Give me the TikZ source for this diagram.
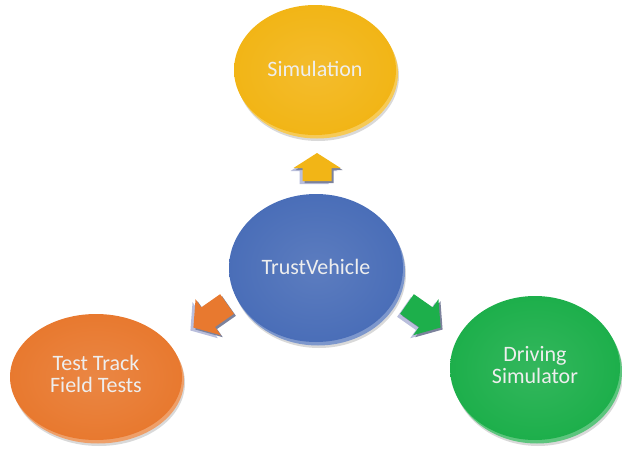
\documentclass[tikz,border=0pt]{standalone}
\usepackage{fontspec}
\setmainfont{Carlito}
\usetikzlibrary{shapes.geometric,shadows}

\definecolor{discgold}{HTML}{F2B516}
\definecolor{discblue}{HTML}{4A6EB8}
\definecolor{discorange}{HTML}{E8792F}
\definecolor{discgreen}{HTML}{1DAF4B}
\definecolor{labelwhite}{HTML}{EEEEEE}
\definecolor{arrowlav}{HTML}{B9BEDC}
\definecolor{arrowgray}{HTML}{7C829C}

% Block arrow: #1 tail centre, #2 heading, #3 fill, #4 length,
% #5 head length, #6 head half-width, #7 body half-width
\newcommand\blockarrow[7]{%
  \foreach \dx/\dy/\col in {-3/3/arrowlav,2/2/arrowgray,0/0/#3}{%
    \fill[fill=\col, shift={(\dx,\dy)}, shift={#1}, rotate=#2]
      (0,-#7) -- ({#4-#5},-#7) -- ({#4-#5},-#6) -- (#4,0)
      -- ({#4-#5},#6) -- ({#4-#5},#7) -- (0,#7) -- cycle;
  }%
}

% two-line label, lifted slightly above the disc centre
\newcommand\twolines[2]{\raisebox{5pt}{\begin{tabular}{@{}c@{}}#1\\[-2pt]#2\end{tabular}}}

\tikzset{
  disc/.style={ellipse, inner sep=0pt, text=labelwhite, align=center,
    font=\fontsize{22}{24}\selectfont,
    general shadow={shadow xshift=3pt, shadow yshift=-6pt, fill=black, fill opacity=.15},
    general shadow={shadow xshift=2pt, shadow yshift=-3.5pt, fill=#1!72!white},
    shade, inner color=#1!90!white, outer color=#1},
}

\begin{document}
\begin{tikzpicture}[x=1pt,y=-1pt]
\useasboundingbox (0,0) rectangle (622,455);

\node[disc=discgold,   minimum width=162pt, minimum height=130pt] (sim)   at (315,70)  {\raisebox{2pt}{Simulation}};
\node[disc=discblue,   minimum width=174pt, minimum height=148pt] (trust) at (316,268) {\raisebox{3pt}{TrustVehicle}};
\node[disc=discorange, minimum width=172pt, minimum height=126pt] (track) at (96,377)  {\twolines{Test Track}{Field Tests}};
\node[disc=discgreen,  minimum width=170pt, minimum height=144pt] (drive) at (535,368) {\twolines{Driving}{Simulator}};

\blockarrow{(317,181)}{90}{discgold}{28}{15}{23.5}{14.5}
\blockarrow{(227,304)}{215}{discorange}{41}{18}{22}{12}
\blockarrow{(407,304)}{-35}{discgreen}{41}{18}{22}{12}
\end{tikzpicture}
\end{document}
